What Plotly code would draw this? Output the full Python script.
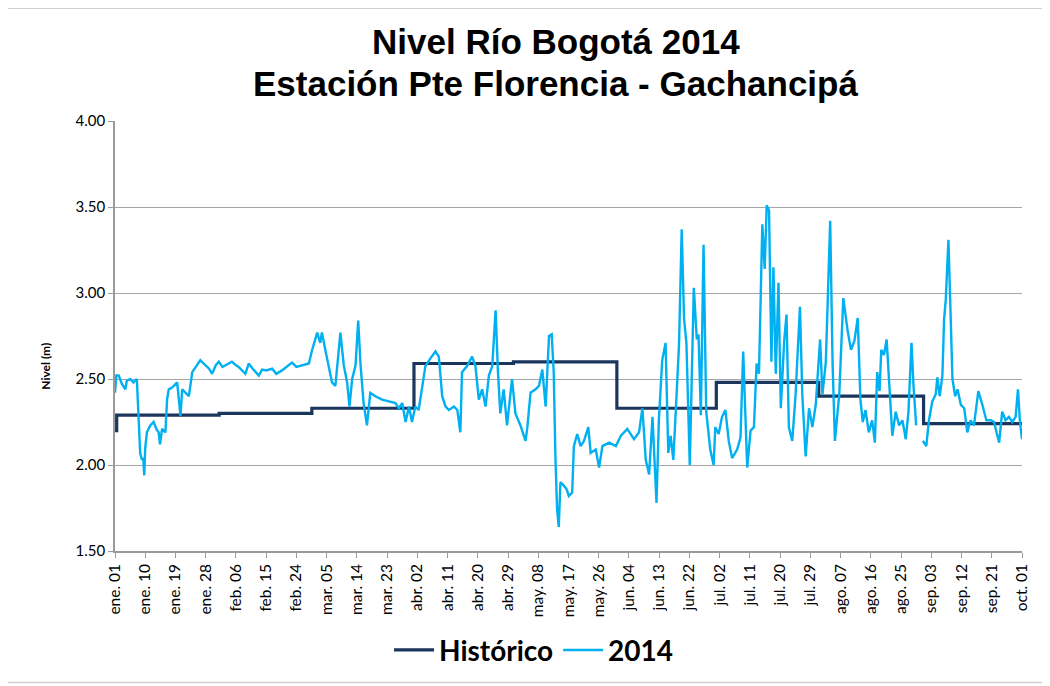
import plotly.graph_objects as go

# ---------------- data ----------------
title_lines = ["Nivel Río Bogotá 2014", "Estación Pte Florencia - Gachancipá"]

tick_labels = ["ene. 01", "ene. 10", "ene. 19", "ene. 28", "feb. 06", "feb. 15", "feb. 24",
               "mar. 05", "mar. 14", "mar. 23", "abr. 02", "abr. 11", "abr. 20", "abr. 29",
               "may. 08", "may. 17", "may. 26", "jun. 04", "jun. 13", "jun. 22", "jul. 02",
               "jul. 11", "jul. 20", "jul. 29", "ago. 07", "ago. 16", "ago. 25", "sep. 03",
               "sep. 12", "sep. 21", "oct. 01"]
tick_pos = list(range(0, 271, 9))

hist_day = [0, 0.5, 31, 58.6, 89, 118.6, 149.4, 179, 209.5, 240.7, 270]
hist_lvl = [2.20, 2.29, 2.30, 2.33, 2.59, 2.60, 2.33, 2.48, 2.40, 2.24, 2.24]

day14 = [0, 0.4, 1.1, 2.1, 3.1, 3.5, 4.5, 5.5, 6.5, 7.0, 7.5, 8.0, 8.4, 8.7, 9.0, 9.5,
         10.5, 11.5, 12.3, 13.0, 13.4, 14.0, 15.0, 15.5, 16.0, 17.0, 18.5, 19.5, 20.0,
         21.0, 22.0, 23.0, 24.0, 25.4, 26.9, 28.0, 28.9, 30.0, 30.9, 32.0, 32.9, 34.8,
         36.0, 36.8, 38.8, 39.8, 41.0, 42.8, 43.8, 45.0, 46.8, 48.0, 49.7, 51.0, 52.7,
         54.0, 55.7, 57.7, 58.7, 60.2, 61.1, 61.6, 62.6, 63.6, 64.6, 65.6, 67.1, 68.1,
         69.1, 69.8, 70.6, 71.6, 72.4, 73.1, 74.0, 75.0, 76.0, 77.5, 79.5, 81.5, 83.5,
         84.5, 85.5, 86.5, 87.5, 88.4, 89.4, 90.4, 91.4, 92.4, 93.9, 95.4, 96.4, 97.4,
         98.4, 99.4, 100.9, 101.9, 102.8, 103.3, 104.8, 106.3, 107.3, 108.3, 109.3,
         110.3, 111.3, 112.3, 113.3, 114.0, 114.7, 115.7, 116.7, 118.2, 119.2, 120.7,
         122.2, 122.7, 123.7, 125.2, 126.2, 127.2, 128.2, 129.2, 130.0, 130.6, 131.1,
         131.6, 132.1, 132.6, 133.6, 134.4, 135.1, 136.1, 136.6, 137.6, 138.6, 139.6,
         140.9, 141.6, 143.1, 144.1, 145.1, 147.1, 149.1, 150.6, 152.5, 154.5, 156.0,
         157.0, 158.0, 159.0, 160.0, 160.8, 161.2, 161.9, 162.9, 163.9, 164.7, 165.4,
         166.2, 167.2, 167.9, 168.7, 169.4, 170.1, 171.1, 172.3, 173.2, 173.7, 174.4,
         175.2, 176.0, 177.2, 178.2, 178.7, 179.7, 180.7, 181.7, 182.7, 183.7, 185.2,
         186.2, 187.0, 187.7, 188.2, 189.2, 190.2, 191.0, 191.7, 192.7, 193.4, 194.0,
         194.7, 195.4, 196.0, 196.7, 197.5, 198.2, 199.2, 199.9, 200.6, 201.6, 202.6,
         203.9, 204.6, 205.6, 206.6, 207.6, 208.6, 209.9, 210.6, 211.6, 212.9, 213.6,
         214.3, 215.6, 216.8, 218.1, 219.1, 220.1, 221.1, 221.9, 222.6, 223.4, 224.4,
         225.4, 226.2, 226.9, 227.6, 228.1, 228.9, 229.7, 230.4, 231.4, 232.4, 233.4,
         234.4, 235.4, 236.2, 237.1, 237.7, 238.5, 239.5, 240.5, 241.5, 242.3, 243.3,
         244.3, 244.8, 245.5, 246.3, 246.8, 247.3, 248.1, 248.6, 249.3, 250.1, 250.8,
         251.8, 252.8, 253.7, 254.7, 255.7, 257.0, 258.2, 259.4, 260.7, 261.7, 262.4,
         263.2, 264.1, 265.1, 266.1, 267.1, 268.1, 268.8, 269.4, 270.0]

lvl14 = [2.42, 2.52, 2.52, 2.47, 2.44, 2.49, 2.50, 2.48, 2.50, 2.27, 2.07, 2.03, 2.04, 1.94, 2.10, 2.19,
         2.23, 2.25, 2.21, 2.19, 2.12, 2.21, 2.19, 2.38, 2.44, 2.45, 2.48, 2.285, 2.44,
         2.42, 2.40, 2.54, 2.57, 2.61, 2.58, 2.56, 2.53, 2.58, 2.60, 2.57, 2.58, 2.60,
         2.58, 2.57, 2.53, 2.59, 2.56, 2.52, 2.555, 2.55, 2.56, 2.53, 2.55, 2.57, 2.595,
         2.57, 2.58, 2.59, 2.67, 2.77, 2.71, 2.77, 2.67, 2.575, 2.48, 2.46, 2.77, 2.58,
         2.48, 2.34, 2.50, 2.58, 2.84, 2.58, 2.36, 2.23, 2.42, 2.40, 2.38, 2.37, 2.36,
         2.33, 2.36, 2.25, 2.34, 2.25, 2.34, 2.32, 2.44, 2.575, 2.62, 2.66, 2.63, 2.40,
         2.34, 2.32, 2.34, 2.32, 2.19, 2.54, 2.575, 2.63, 2.575, 2.38, 2.44,
         2.34, 2.52, 2.575, 2.90, 2.54, 2.30, 2.44, 2.23, 2.50, 2.30, 2.23,
         2.14, 2.21, 2.42, 2.44, 2.46, 2.555, 2.34, 2.75, 2.76, 2.54, 2.05,
         1.745, 1.64, 1.90, 1.88, 1.86, 1.82, 1.84, 2.11, 2.18, 2.11, 2.14,
         2.22, 2.07, 2.09, 1.985, 2.11, 2.13, 2.11, 2.17, 2.21, 2.15, 2.19,
         2.33, 2.03, 1.945, 2.28, 1.94, 1.78, 2.26, 2.61, 2.71, 2.07, 2.17,
         2.03, 2.42, 2.70, 3.37, 2.85, 2.71, 2.00, 3.03, 2.73, 2.76, 2.29,
         3.28, 2.31, 2.09, 2.00, 2.22, 2.18, 2.28, 2.32, 2.14, 2.04, 2.09,
         2.16, 2.66, 2.22, 1.985, 2.20, 2.22, 2.59, 2.53, 3.40, 3.14, 3.51,
         3.48, 2.60, 3.15, 2.53, 3.06, 2.33, 2.72, 2.875, 2.22, 2.14, 2.41,
         2.92, 2.41, 2.05, 2.33, 2.22, 2.35, 2.73, 2.41, 2.60, 3.42, 2.60,
         2.14, 2.41, 2.97, 2.78, 2.67, 2.72, 2.855, 2.38, 2.25, 2.32, 2.19,
         2.26, 2.13, 2.54, 2.43, 2.67, 2.64, 2.73, 2.52, 2.17, 2.31, 2.23,
         2.26, 2.15, 2.31, 2.71, 2.46, 2.23, None, 2.14, 2.11, 2.26, 2.37,
         2.41, 2.51, 2.40, 2.52, 2.845, 2.96, 3.31, 2.94, 2.50, 2.40, 2.44,
         2.35, 2.33, 2.19, 2.26, 2.23, 2.43, 2.35, 2.26, 2.26, 2.25, 2.19,
         2.13, 2.31, 2.26, 2.28, 2.25, 2.28, 2.44, 2.25, 2.15]

# ---------------- figure ----------------
NAVY = "#1B365D"
LIGHT = "#00B0F0"
FONT = "Lato, Open Sans, sans-serif"

fig = go.Figure()
fig.add_trace(go.Scatter(x=hist_day, y=hist_lvl, mode="lines", name="<b>Histórico</b>",
                         line=dict(color=NAVY, width=3.2, shape="hv")))
fig.add_trace(go.Scatter(x=day14, y=lvl14, mode="lines", name="<b>2014</b>",
                         line=dict(color=LIGHT, width=2.4), connectgaps=False))

fig.update_layout(
    width=1042, height=678,
    margin=dict(l=107, r=28, t=113, b=134),
    paper_bgcolor="white", plot_bgcolor="white",
    showlegend=True,
    legend=dict(orientation="h", x=0.462, xanchor="center", y=-0.228, yanchor="middle",
                font=dict(family=FONT, size=28, color="black"),
                itemwidth=40, bgcolor="rgba(0,0,0,0)"),
    font=dict(family=FONT, color="black"),
)

# title, two lines
for txt, yp in zip(title_lines, [1.185, 1.087]):
    fig.add_annotation(text="<b>" + txt + "</b>", xref="paper", yref="paper",
                       x=0.486, y=yp, xanchor="center", yanchor="middle", showarrow=False,
                       font=dict(family="Liberation Sans, Arial", size=35, color="black"))

fig.update_xaxes(range=[0, 270], tickmode="array", tickvals=tick_pos, ticktext=tick_labels,
                 tickangle=-90, tickfont=dict(size=15.5, family=FONT),
                 showgrid=False, showline=True, linecolor="#9A9A9A", linewidth=1.5,
                 ticks="outside", ticklen=5, tickcolor="#9A9A9A", zeroline=False)
fig.update_yaxes(range=[1.5, 4.0], dtick=0.5, tickformat=".2f",
                 tickfont=dict(size=15, family=FONT),
                 showgrid=True, gridcolor="#A6A6A6", gridwidth=1,
                 showline=True, linecolor="#9A9A9A", linewidth=1.5,
                 ticks="outside", ticklen=5, tickcolor="#9A9A9A", zeroline=False)

fig.add_annotation(text="<b>Nivel (m)</b>", xref="paper", yref="paper",
                   x=-0.088, y=0.43, textangle=-90, showarrow=False,
                   font=dict(size=12, family=FONT, color="black"))

# outer chart border
fig.add_shape(type="rect", xref="paper", yref="paper",
              x0=-0.12, x1=1.0265, y0=-0.306, y1=1.262,
              line=dict(color="#D0D0D0", width=1.5), fillcolor="rgba(0,0,0,0)", layer="below")

fig.write_html("out.html")
